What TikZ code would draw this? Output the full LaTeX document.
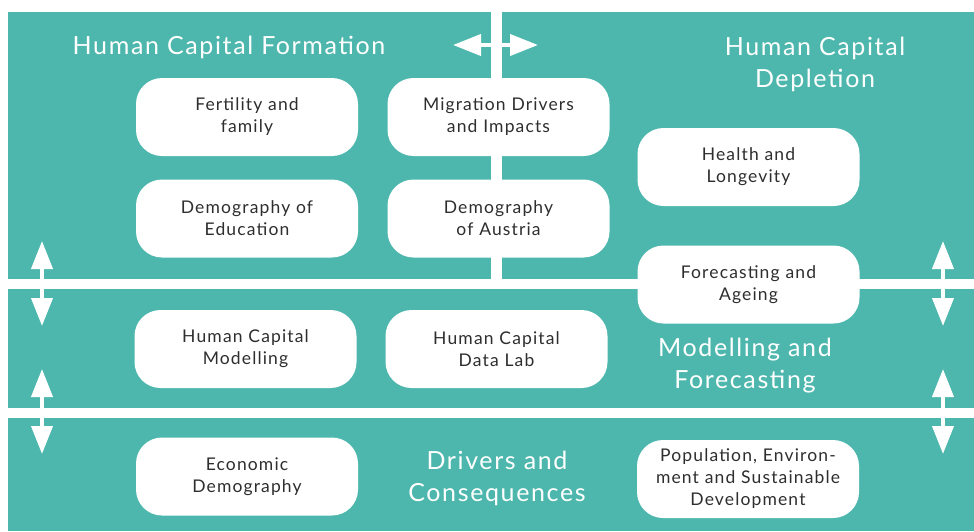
\documentclass[tikz,border=0pt]{standalone}
\usepackage{fontspec}
\setmainfont{Lato}[LetterSpace=6.5]
\usetikzlibrary{arrows.meta}
\definecolor{tealbg}{HTML}{4DB7AD}
\definecolor{txtgray}{HTML}{2E2E2E}
\begin{document}
\begin{tikzpicture}[x=1pt,y=-1pt,
 topic/.style={fill=white, rounded corners=26pt, minimum width=222pt, minimum height=78pt,
   text width=215pt, align=center, font=\fontsize{17.5}{22}\selectfont, text=txtgray, inner sep=0pt},
 title/.style={text=white, align=center, font=\fontsize{25}{32}\selectfont, inner sep=0pt},
 dblarrow/.style={white, line width=4pt, {Triangle[length=28pt,width=21pt]}-{Triangle[length=28pt,width=21pt]}}]
\useasboundingbox (0,0) rectangle (974,531);
\fill[white] (0,0) rectangle (974,531);
\fill[tealbg] (8,12) rectangle (491,279);
\fill[tealbg] (502,12) rectangle (974,279);
\fill[tealbg] (8,289) rectangle (974,408);
\fill[tealbg] (8,418) rectangle (974,531);

\node[title] (tform) at (229,47) {Human Capital Formation};
\node[title] (tdepl) at (815,64) {Human Capital\\Depletion};
\node[title] (tmod) at (745,366) {Modelling and\\Forecasting};
\node[title] (tdrv) at (497,478) {Drivers and\\Consequences};

\node[topic] (fert) at (247,117) {Fertility and\\family};
\node[topic] (migr) at (498.5,117) {Migration Drivers\\and Impacts};
\node[topic] (dedu) at (247,218.5) {Demography of\\Education};
\node[topic] (daus) at (498.5,218.5) {Demography\\of Austria};
\node[topic] (hlth) at (748.5,167) {Health and\\Longevity};
\node[topic] (fcst) at (748.5,284.5) {Forecasting and\\Ageing};
\node[topic] (hcm) at (245.5,349) {Human Capital\\Modelling};
\node[topic] (hcdl) at (496.5,349) {Human Capital\\Data Lab};
\node[topic] (econ) at (247,476.5) {Economic\\Demography};
\node[topic] (popu) at (748,479) {Population, Environ-\\ment and Sustainable\\Development};

\coordinate (hl) at (453,45);
\coordinate (hr) at (538,45);
\draw[dblarrow] (hl) -- (hr);
\coordinate (l1t) at (42,241);
\coordinate (l1b) at (42,326);
\coordinate (l2t) at (42,369);
\coordinate (l2b) at (42,454);
\coordinate (r1t) at (943,241);
\coordinate (r1b) at (943,326);
\coordinate (r2t) at (943,369);
\coordinate (r2b) at (943,454);
\draw[dblarrow] (l1t) -- (l1b);
\draw[dblarrow] (l2t) -- (l2b);
\draw[dblarrow] (r1t) -- (r1b);
\draw[dblarrow] (r2t) -- (r2b);
\end{tikzpicture}
\end{document}
